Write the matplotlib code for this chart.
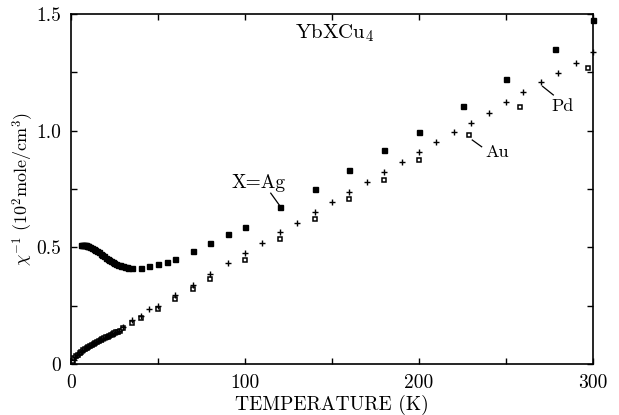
import numpy as np
import matplotlib
matplotlib.use("Agg")
import matplotlib.pyplot as plt

plt.rcParams['font.family'] = ['cmr10', 'DejaVu Serif']
plt.rcParams['mathtext.fontset'] = 'cm'
plt.rcParams['axes.unicode_minus'] = False

# X = Ag (filled squares): dense low-T part, then sparse
ag_T = [6, 6.5, 7, 7.5, 8, 8.5, 9, 9.5, 10, 11, 12, 13, 14, 15, 16, 17, 18, 19,
        20, 21, 22, 23, 24, 25, 26, 27, 28, 29, 30, 31, 32, 33,
        35, 40, 45, 50, 55, 60, 70, 80, 90, 100, 120, 140, 160, 180, 200,
        225, 250, 278, 300]
ag_chi = [0.510, 0.510, 0.510, 0.510, 0.509, 0.508, 0.507, 0.506, 0.505, 0.502,
          0.498, 0.494, 0.489, 0.484, 0.479, 0.473, 0.467, 0.462, 0.456, 0.451,
          0.446, 0.441, 0.437, 0.433, 0.429, 0.426, 0.423, 0.420, 0.418, 0.416,
          0.414, 0.413,
          0.411, 0.411, 0.418, 0.427, 0.437, 0.450, 0.485, 0.520, 0.557, 0.587,
          0.673, 0.750, 0.833, 0.916, 0.996, 1.106, 1.223, 1.349, 1.474]

# X = Au (open squares)
au_T = [1, 2, 3, 4, 5, 6, 7, 8, 9, 10, 11, 12, 13, 14, 15, 16, 17, 18, 19, 20,
        21, 22, 23, 24, 25, 26, 27, 28,
        30, 35, 40, 50, 60, 70, 80, 100, 120, 140, 160, 180, 200, 229, 258, 297]
au_chi = [0.012, 0.024, 0.033, 0.040, 0.047, 0.053, 0.059, 0.064, 0.069, 0.074,
          0.078, 0.083, 0.087, 0.091, 0.095, 0.099, 0.103, 0.107, 0.110, 0.114,
          0.117, 0.121, 0.125, 0.128, 0.132, 0.136, 0.139, 0.143,
          0.155, 0.177, 0.198, 0.237, 0.277, 0.320, 0.363, 0.446, 0.534, 0.621,
          0.706, 0.789, 0.873, 0.980, 1.100, 1.270]

# X = Pd (plus signs)
pd_T = [1.5, 2.5, 3.5, 4.5, 5.5, 6.5, 7.5, 8.5, 9.5, 10.5, 11.5, 12.5, 13.5,
        14.5, 15.5, 16.5, 17.5, 18.5, 19.5, 20.5, 21.5, 22.5, 23.5, 24.5, 25.5,
        26.5, 27.5,
        30, 35, 40, 45, 50, 60, 70, 80, 90, 100, 110, 120, 130, 140, 150, 160,
        170, 180, 190, 200, 210, 220, 230, 240, 250, 260, 270, 280, 290, 300]
pd_chi = [0.019, 0.029, 0.037, 0.044, 0.050, 0.056, 0.062, 0.067, 0.071, 0.076,
          0.081, 0.085, 0.089, 0.093, 0.097, 0.101, 0.105, 0.109, 0.112, 0.116,
          0.119, 0.123, 0.127, 0.130, 0.134, 0.138, 0.141,
          0.159, 0.190, 0.205, 0.234, 0.249, 0.296, 0.339, 0.386, 0.434, 0.477,
          0.517, 0.564, 0.606, 0.650, 0.693, 0.736, 0.780, 0.823, 0.864, 0.907,
          0.950, 0.993, 1.034, 1.077, 1.121, 1.164, 1.207, 1.249, 1.290, 1.337]

x_ticks = [0, 50, 100, 150, 200, 250, 300]
x_labels = ['0', '', '100', '', '200', '', '300']
y_ticks = [0, 0.25, 0.5, 0.75, 1.0, 1.25, 1.5]
y_labels = ['0', '', '0.5', '', '1.0', '', '1.5']

fig = plt.figure(figsize=(6.19, 4.15), dpi=100)
ax = fig.add_axes([0.1147, 0.1229, 0.8433, 0.8434])

ax.plot(au_T, au_chi, ls='none', marker='s', ms=3.4, mfc='white', mec='black', mew=1.1, clip_on=False)
ax.plot(pd_T, pd_chi, ls='none', marker='+', ms=5, mec='black', mew=1.0, clip_on=False)
ax.plot(ag_T, ag_chi, ls='none', marker='s', ms=3.6, mfc='black', mec='black', clip_on=False)

ax.set_xlim(0, 300)
ax.set_ylim(0, 1.5)
ax.set_xticks(x_ticks)
ax.set_xticklabels(x_labels)
ax.set_yticks(y_ticks)
ax.set_yticklabels(y_labels)
ax.tick_params(direction='in', length=4, width=1, top=True, right=True,
               labelsize=14, pad=7)
for s in ax.spines.values():
    s.set_linewidth(1.2)

ax.set_xlabel('TEMPERATURE (K)', fontsize=14, labelpad=2)
ax.set_ylabel(r'$\chi^{-1}$ (10$^2$mole/cm$^3$)', fontsize=13, labelpad=0)

ax.text(151.5, 1.419, r'YbXCu$_4$', fontsize=15, ha='center', va='center')

ax.text(107.5, 0.776, 'X=Ag', fontsize=14, ha='center', va='center')
ax.plot([114.8, 120.1], [0.732, 0.677], color='black', lw=0.9)
ax.text(245, 0.909, 'Au', fontsize=13, ha='center', va='center')
ax.plot([230.6, 236.0], [0.960, 0.931], color='black', lw=0.9)
ax.text(282.5, 1.106, 'Pd', fontsize=13, ha='center', va='center')
ax.plot([271.0, 277.2], [1.190, 1.153], color='black', lw=0.9)

fig.savefig('out.png', dpi=100)
